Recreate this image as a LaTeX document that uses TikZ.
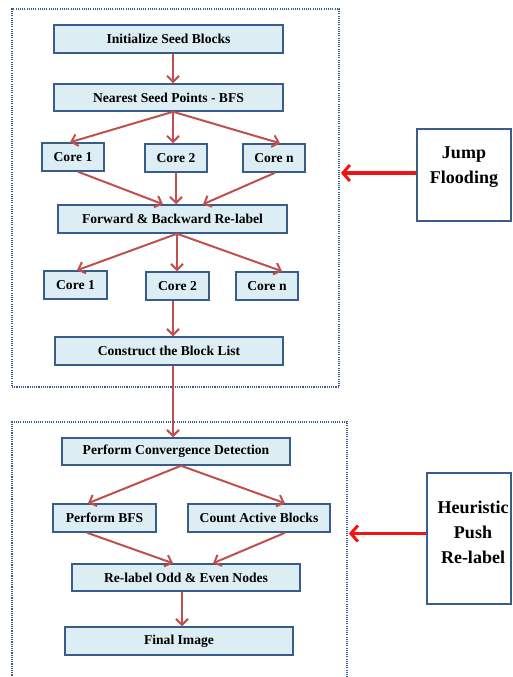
\documentclass[tikz,border=0pt]{standalone}
\usepackage{fontspec}
\setmainfont{Liberation Serif}
\usetikzlibrary{arrows.meta,calc}
\definecolor{boxfill}{HTML}{DCEEF4}
\definecolor{boxline}{HTML}{385D8A}
\definecolor{flowarrow}{HTML}{C0504D}
\definecolor{bigred}{HTML}{F01515}
\begin{document}
\begin{tikzpicture}[x=1pt,y=-1pt,
  flowbox/.style={draw=boxline,line width=1.5pt,fill=boxfill,inner sep=0pt,
    font=\fontsize{13.6}{15}\selectfont\bfseries},
  flowarr/.style={draw=flowarrow,line width=2pt,
    -{Straight Barb[length=6pt,width=12pt,line width=2pt]}},
  dotbox/.style={draw=boxline,line width=1.8pt,dash pattern=on 1.1pt off 1.1pt,inner sep=0pt},
  sidebox/.style={draw=boxline,line width=1.5pt,fill=white,inner sep=0pt},
  sidetext/.style={align=center,font=\fontsize{18}{25}\selectfont\bfseries},
  redarr/.style={draw=bigred,line width=3.5pt,
    -{Straight Barb[length=7pt,width=16pt,line width=3pt]}}]
\useasboundingbox (0,0) rectangle (513,677);
\fill[white] (0,0) rectangle (513,677);
% dotted group boxes
\node[dotbox,minimum width=327,minimum height=378] (topgrp) at (175.5,198) {};
\node[dotbox,minimum width=335,minimum height=270] (botgrp) at (179.5,557) {};
% flow boxes
\node[flowbox,minimum width=229,minimum height=28] (init) at (168.5,39) {Initialize Seed Blocks};
\node[flowbox,minimum width=229,minimum height=27] (near) at (168.5,97.5) {Nearest Seed Points - BFS};
\node[flowbox,minimum width=62,minimum height=28] (c1a) at (73,157) {Core 1};
\node[flowbox,minimum width=62,minimum height=28] (c2a) at (176,158) {Core 2};
\node[flowbox,minimum width=62,minimum height=28] (cna) at (274,158) {Core n};
\node[flowbox,minimum width=229,minimum height=28] (fwd) at (172.5,219) {Forward \& Backward Re-label};
\node[flowbox,minimum width=63,minimum height=28] (c1b) at (75.5,285) {Core 1};
\node[flowbox,minimum width=63,minimum height=28] (c2b) at (177.5,286) {Core 2};
\node[flowbox,minimum width=62,minimum height=28] (cnb) at (267,286) {Core n};
\node[flowbox,minimum width=228,minimum height=28] (cons) at (169,351) {Construct the Block List};
\node[flowbox,minimum width=228,minimum height=27] (conv) at (176,451.5) {Perform Convergence Detection};
\node[flowbox,minimum width=103,minimum height=28] (bfs) at (104.5,518) {Perform BFS};
\node[flowbox,minimum width=142,minimum height=28] (cnt) at (259,518) {Count Active Blocks};
\node[flowbox,minimum width=228,minimum height=27] (rel) at (186,577.5) {Re-label Odd \& Even Nodes};
\node[flowbox,minimum width=228,minimum height=28] (fin) at (179,641) {Final Image};
% connectors
\draw[flowarr] ($(init.south)+(4.5,0)$) -- ($(near.north)+(4.5,0)$);
\draw[flowarr] ($(near.south)+(4.5,0)$) -- ($(c1a.north)+(-3,0)$);
\draw[flowarr] ($(near.south)+(4.5,0)$) -- ($(c2a.north)+(-3,0)$);
\draw[flowarr] ($(near.south)+(4.5,0)$) -- ($(cna.north)+(6,0)$);
\draw[flowarr] ($(c1a.south)+(5,0)$) -- ($(fwd.north)+(-9.5,0)$);
\draw[flowarr] (c2a.south) -- (c2a.south |- fwd.north);
\draw[flowarr] ($(cna.south)+(1,0)$) -- ($(fwd.north)+(30.5,0)$);
\draw[flowarr] ($(fwd.south)+(4.5,0)$) -- ($(c1b.north)+(1.5,0)$);
\draw[flowarr] ($(fwd.south)+(4.5,0)$) -- ($(c2b.north)+(-0.5,0)$);
\draw[flowarr] ($(fwd.south)+(4.5,0)$) -- ($(cnb.north)+(15,0)$);
\draw[flowarr] ($(c2b.south)+(-4.5,0)$) -- ($(c2b.south |- cons.north)+(-4.5,0)$);
\draw[flowarr] ($(cons.south)+(4,0)$) -- ($(cons.south |- conv.north)+(4,0)$);
\draw[flowarr] ($(conv.south)+(5,0)$) -- ($(bfs.north)+(-16.5,0)$);
\draw[flowarr] ($(conv.south)+(5,0)$) -- ($(cnt.north)+(26,0)$);
\draw[flowarr] ($(bfs.south)+(-17.5,0)$) -- ($(rel.north)+(-13,0)$);
\draw[flowarr] ($(cnt.south)+(26,0)$) -- ($(rel.north)+(27,0)$);
\draw[flowarr] ($(rel.south)+(-4,0)$) -- ($(rel.south |- fin.north)+(-4,0)$);
% side boxes
\node[sidebox,minimum width=94,minimum height=92] (jf) at (464,175) {};
\node[sidetext] (jftext) at ($(jf.center)+(0,-8)$) {Jump\\Flooding};
\node[sidebox,minimum width=84,minimum height=131] (hp) at (469,538.5) {};
\node[sidetext] (hptext) at ($(hp.center)+(4,-6)$) {Heuristic\\Push\\Re-label};
\draw[redarr] ($(jf.west)+(0,-2)$) -- ($(jf.west -| topgrp.east)+(1,-2)$);
\draw[redarr] ($(hp.west)+(0,-5)$) -- ($(hp.west -| botgrp.east)+(1,-5)$);
\end{tikzpicture}
\end{document}
